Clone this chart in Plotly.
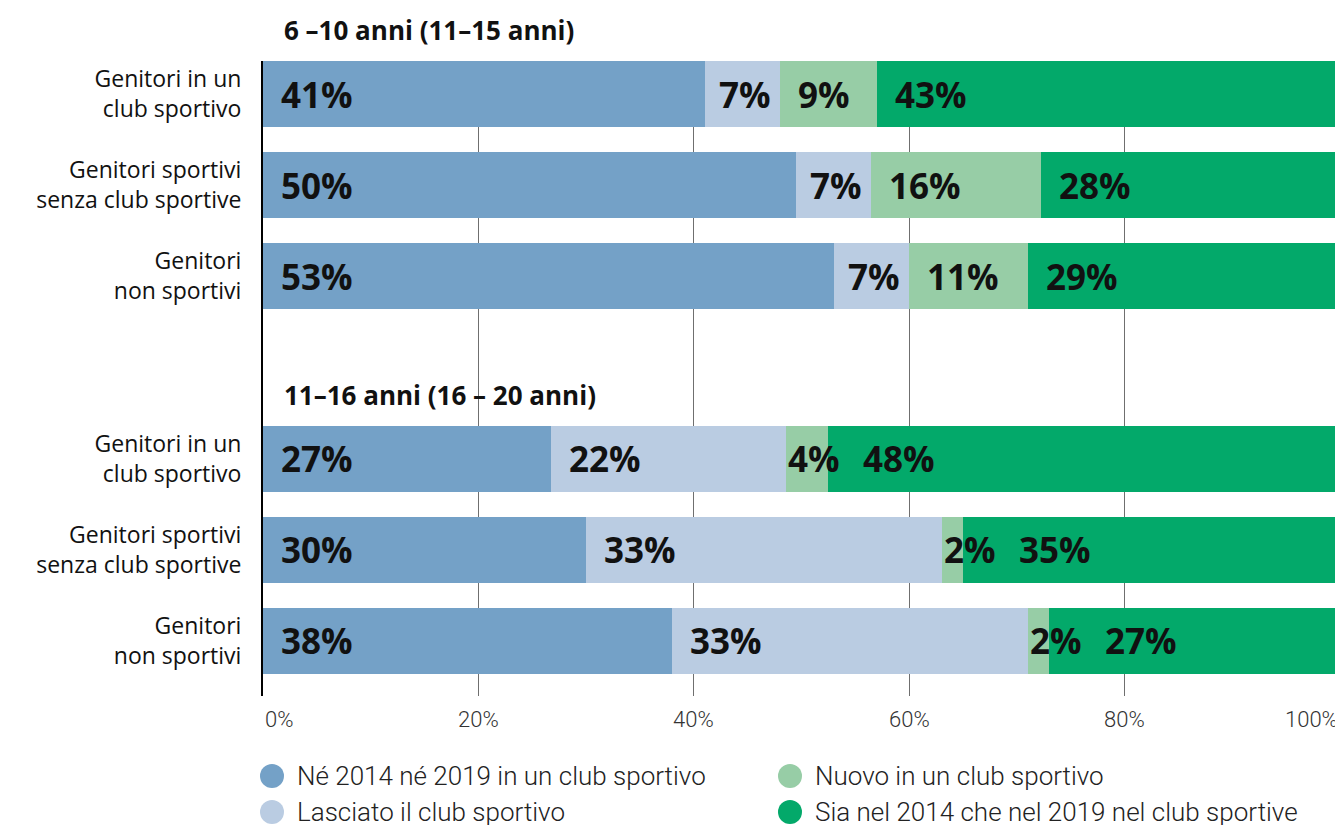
import plotly.graph_objects as go

GROUPS = ["6 –10 anni (11–15 anni)", "11–16 anni (16 – 20 anni)"]
ROWS = [
    "Genitori in un<br>club sportivo",
    "Genitori sportivi<br>senza club sportive",
    "Genitori<br>non sportivi",
]
SERIES = [
    "Né 2014 né 2019 in un club sportivo",
    "Lasciato il club sportivo",
    "Nuovo in un club sportivo",
    "Sia nel 2014 che nel 2019 nel club sportive",
]
COLORS = ["#74A1C7", "#BACCE2", "#97CDA6", "#03A96A"]

# 6 rows per series: 3 rows of the first age group, then 3 of the second
NEITHER = [41, 50, 53, 27, 30, 38]
LEFT_CLUB = [7, 7, 7, 22, 33, 33]
NEW_CLUB = [9, 16, 11, 4, 2, 2]
BOTH = [43, 28, 29, 48, 35, 27]
VALUES = [NEITHER, LEFT_CLUB, NEW_CLUB, BOTH]

TICKS = [0, 20, 40, 60, 80, 100]

BOLD_FONT = "Open Sans"
LIGHT_FONT = "Roboto"
INK = "#111111"
# the page adds an 8px body margin, so the figure is drawn 8px smaller
W, H = 1335, 817
M_L, M_R, M_T, M_B = 255, 3, 53, 129
PLOT_W = W - M_L - M_R
PLOT_H = H - M_T - M_B
PX = 100 / PLOT_W  # one pixel in % of the x axis
Y_RANGE = [6.604, -0.3626]
LABEL_SIZE = 35

# rows 0-2 for the first group, a blank slot, rows 4-6 for the second
ys = [g * 4 + r for g in range(len(GROUPS)) for r in range(len(ROWS))]
ytext = ROWS * len(GROUPS)


def y_paper(y):
    return (Y_RANGE[0] - y) / (Y_RANGE[0] - Y_RANGE[1])


fig = go.Figure()
for name, vals, color in zip(SERIES, VALUES, COLORS):
    fig.add_trace(go.Bar(
        x=vals, y=ys, orientation="h", name=name,
        marker=dict(color=color, line=dict(width=0)),
        showlegend=False, hovertemplate="%{x:.0f}%<extra>" + name + "</extra>",
    ))

annotations = []


def label_width(txt, fs=LABEL_SIZE):
    # rough width of a bold label, in % of the axis
    digits = len(txt) - 1
    return (digits * 0.572 * fs + 0.86 * fs) * PX


# value labels inside the bars, pushed right when a segment is too thin
for i, y in enumerate(ys):
    total = sum(v[i] for v in VALUES)
    start = 0.0
    prev_end = -100.0
    for vals in VALUES:
        share = vals[i] / total * 100
        txt = f"{vals[i]}%"
        w = label_width(txt)
        pad = max(0.0, min(16 * PX, (share - w) / 2))
        x = max(start + pad, prev_end + 25 * PX)
        annotations.append(dict(
            x=x, y=y, xref="x", yref="y", text=txt, showarrow=False,
            xanchor="left", yanchor="middle",
            font=dict(family=BOLD_FONT, size=LABEL_SIZE, color=INK, weight="bold"),
        ))
        prev_end = x + w
        start += share

# group headers, above the first bar of each group
for g, title in enumerate(GROUPS):
    annotations.append(dict(
        x=19 * PX, y=y_paper(g * 4 - 0.70), xref="x", yref="paper", text=title,
        showarrow=False, xanchor="left", yanchor="middle",
        font=dict(family=BOLD_FONT, size=26, color=INK, weight="bold"),
    ))

# x tick labels
for t in TICKS:
    anchor = "left" if t == TICKS[0] else ("right" if t == TICKS[-1] else "center")
    annotations.append(dict(
        x=t, y=0, xref="x", yref="paper", yshift=-23, text=f"{t}%",
        showarrow=False, xanchor=anchor, yanchor="middle",
        font=dict(family=LIGHT_FONT, size=22, color="#333333", weight=300),
    ))

# legend drawn by hand: two columns, circles
shapes = []
legend_slots = [(0, 0), (0, 1), (1, 0), (1, 1)]  # (column, row) per series
col_x = [9 / PLOT_W, 527 / PLOT_W]
row_y = [-80 / PLOT_H, -116 / PLOT_H]
for (col, row), name, color in zip(legend_slots, SERIES, COLORS):
    cx, cy = col_x[col], row_y[row]
    shapes.append(dict(
        type="circle", xref="paper", yref="paper",
        xsizemode="pixel", ysizemode="pixel", xanchor=cx, yanchor=cy,
        x0=-12, x1=12, y0=-12, y1=12,
        fillcolor=color, line=dict(width=0),
    ))
    annotations.append(dict(
        x=cx, y=cy, xref="paper", yref="paper", xshift=23, text=name,
        showarrow=False, xanchor="left", yanchor="middle",
        font=dict(family=LIGHT_FONT, size=26, color="#222222", weight=300),
    ))

fig.update_layout(
    width=W, height=H,
    barmode="stack", barnorm="percent", bargap=0.275,
    paper_bgcolor="white", plot_bgcolor="white",
    margin=dict(l=M_L, r=M_R, t=M_T, b=M_B),
    xaxis=dict(
        range=[0, 100], tick0=0, dtick=20, showticklabels=False,
        showgrid=True, gridcolor="#6f6f6f", gridwidth=1,
        zeroline=False, showline=False, fixedrange=True,
    ),
    yaxis=dict(
        range=Y_RANGE, tickvals=ys, ticktext=ytext, ticks="",
        ticklabelstandoff=15, showgrid=False, zeroline=False,
        showline=True, linecolor="black", linewidth=2, fixedrange=True,
        tickfont=dict(family=BOLD_FONT, size=23, color=INK, weight=500),
    ),
    annotations=annotations,
    shapes=shapes,
    showlegend=False,
)

fig.write_html("out.html")
